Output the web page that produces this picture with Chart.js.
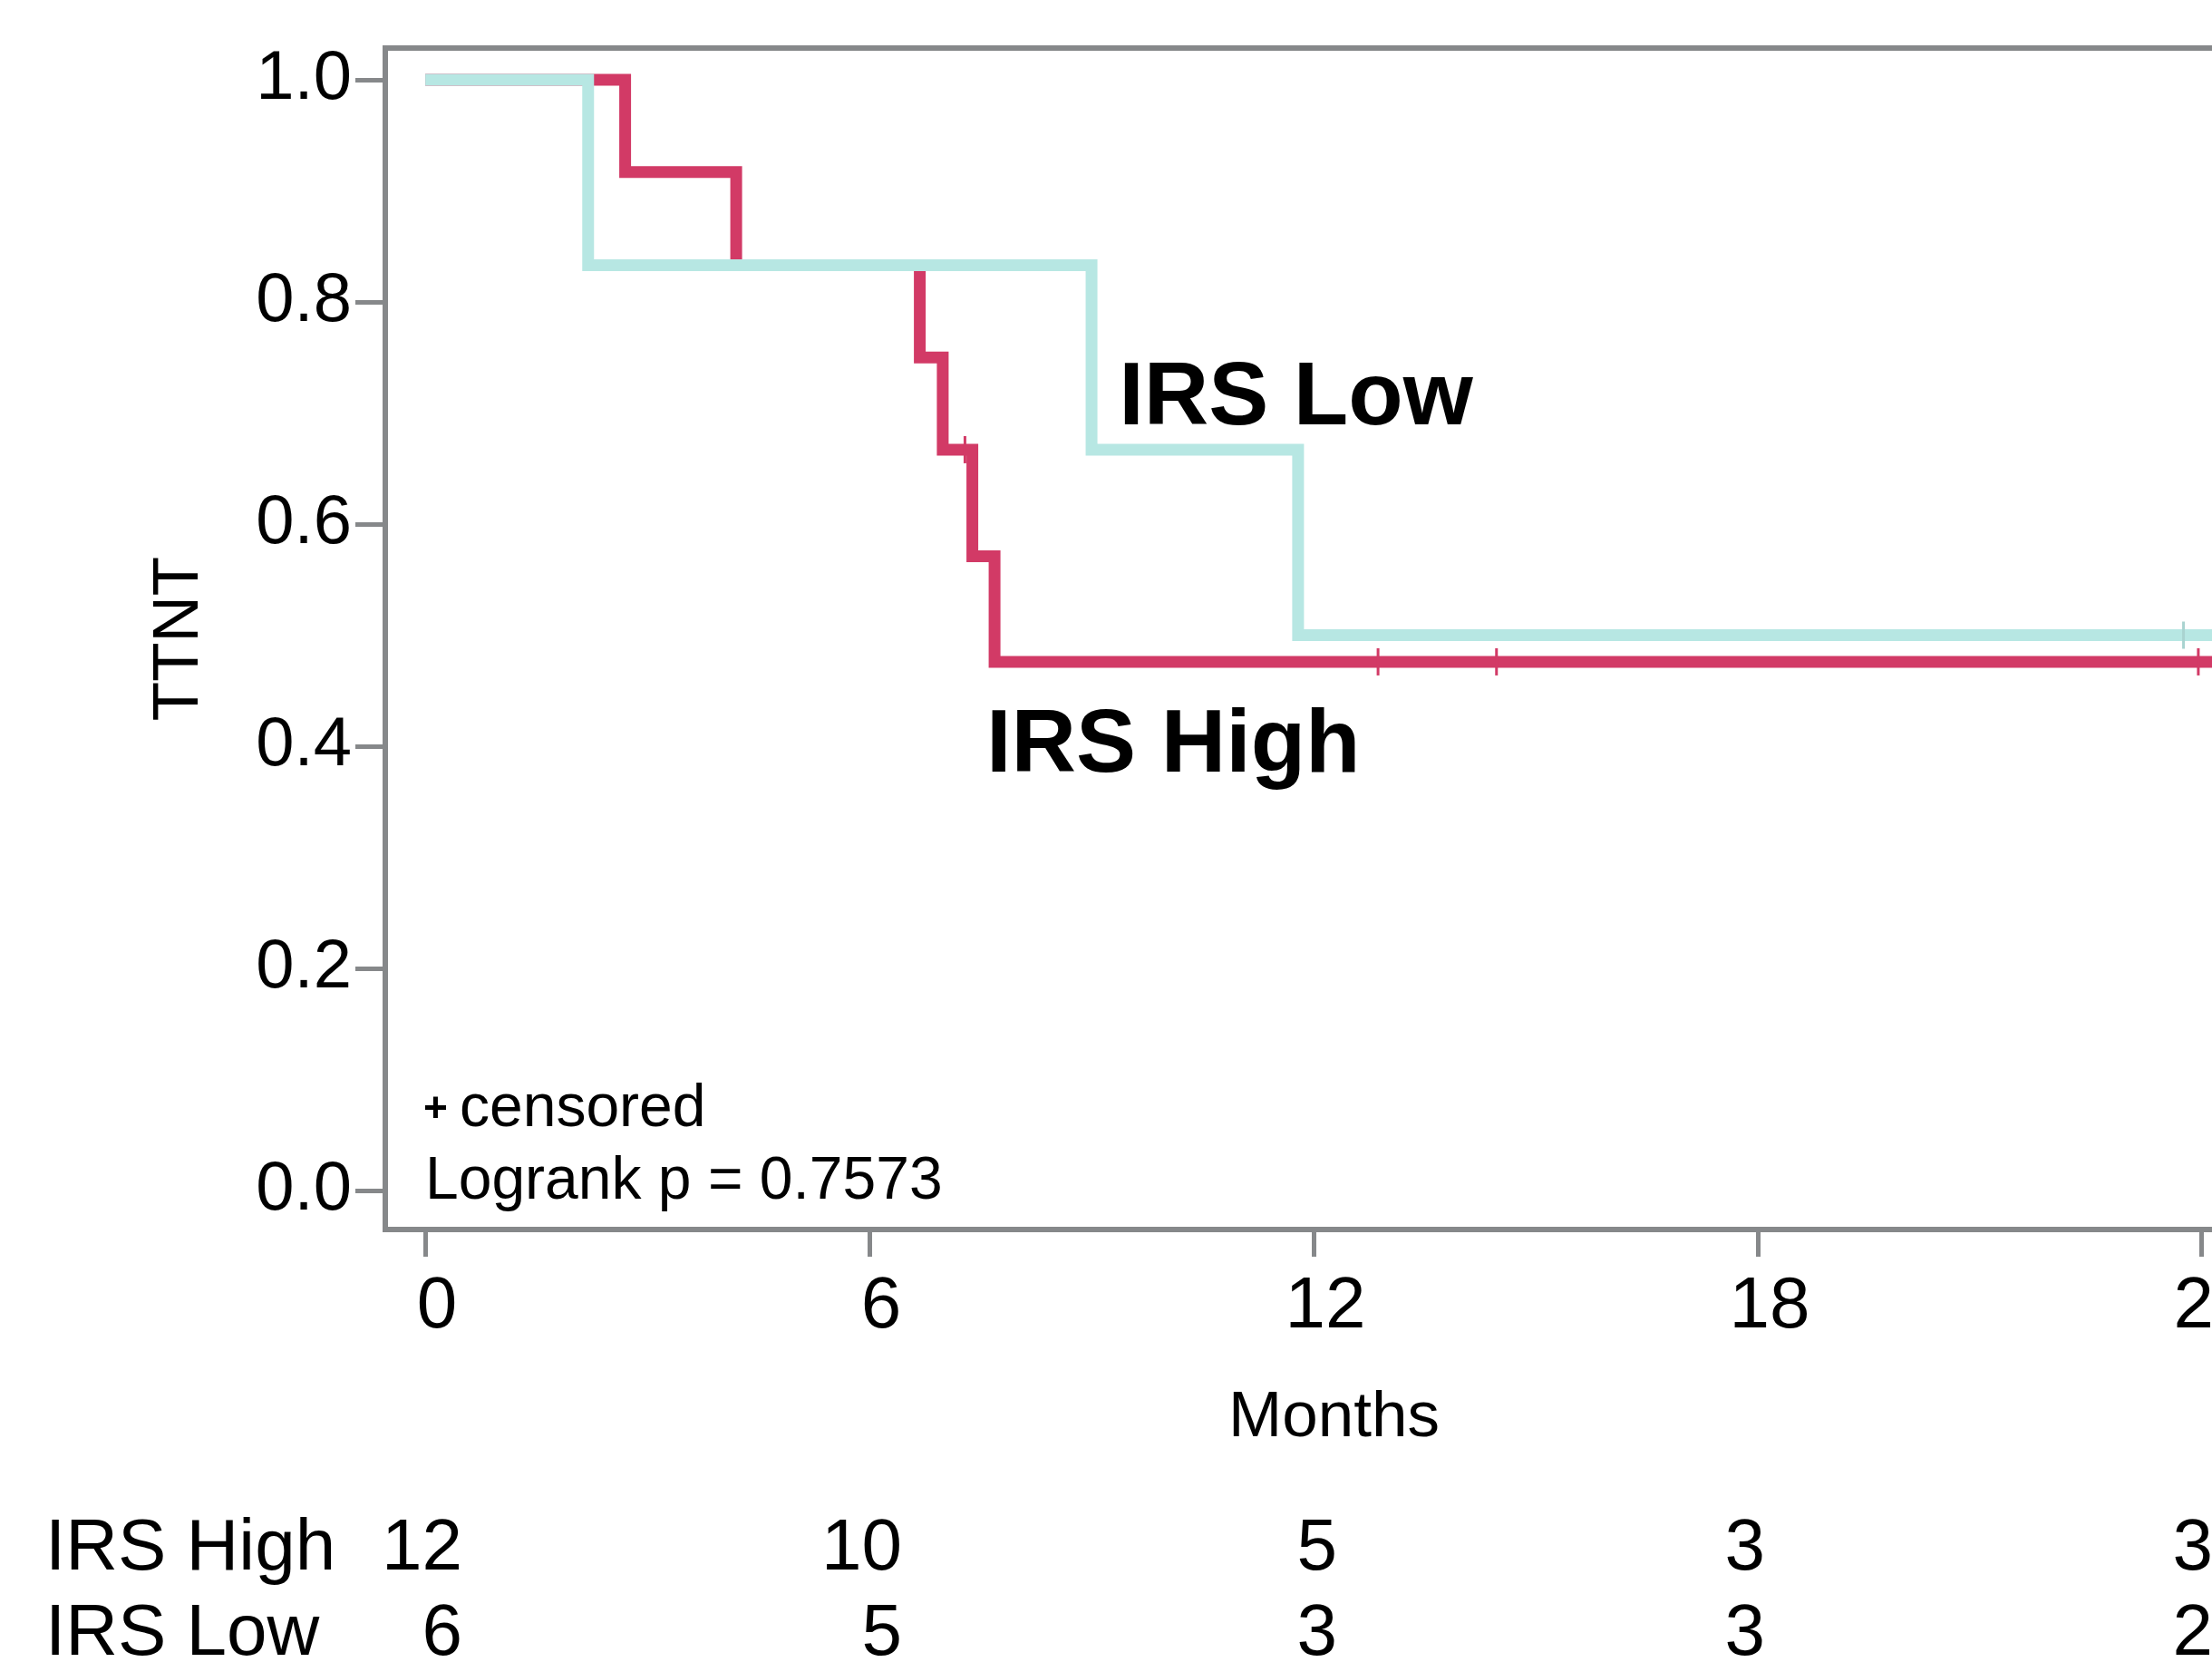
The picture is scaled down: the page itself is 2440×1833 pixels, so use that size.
<!DOCTYPE html>
<html>
<head>
<meta charset="utf-8">
<script src="https://cdn.jsdelivr.net/npm/chart.js@4.4.1/dist/chart.umd.min.js"></script>
<style>
  html, body { margin: 0; padding: 0; background: #fff; overflow: hidden; }
  canvas { display: block; }
</style>
</head>
<body>
<canvas id="km" width="2600" height="1833"></canvas>
<script>
// Kaplan-Meier steps (months, survival)
const highTimes = [0, 2.7, 4.2, 6.68, 6.99, 7.39, 7.69, 24.5];
const highSurv  = [1, 0.917, 0.833, 0.75, 0.667, 0.571, 0.476, 0.476];
const lowTimes  = [0, 2.2, 9.0, 11.79, 24.5];
const lowSurv   = [1, 0.833, 0.667, 0.5, 0.5];

// censored observations
const highCensorTimes = [7.29, 12.87, 14.47, 23.95];
const highCensorSurv  = [0.667, 0.476, 0.476, 0.476];
const lowCensorTimes  = [23.75];
const lowCensorSurv   = [0.5];

const xTicks = [0, 6, 12, 18, 24];
const yTicks = [0, 0.2, 0.4, 0.6, 0.8, 1.0];

// numbers at risk under each x tick
const riskGroups = ['IRS High', 'IRS Low'];
const riskHigh = [12, 10, 5, 3, 3];
const riskLow  = [6, 5, 3, 3, 2];

const pValue = '0.7573';

const red = '#d23a66';
const teal = '#b7e7e3';
const gray = '#86888a';
const FONT = '"Liberation Sans", Arial, Helvetica, sans-serif';

Chart.defaults.font.family = FONT;
Chart.defaults.color = '#000';

function pts(xs, ys) {
  return xs.map((x, i) => ({x: x, y: ys[i]}));
}

const annotate = {
  id: 'annotate',
  beforeDatasetsDraw(chart) {
    const {ctx, chartArea: a} = chart;
    ctx.save();
    ctx.strokeStyle = gray;
    ctx.lineWidth = 6;
    ctx.strokeRect(a.left, a.top, a.right - a.left, a.bottom - a.top);
    ctx.restore();
  },
  afterDraw(chart) {
    const ctx = chart.ctx;
    const xs = chart.scales.x, ys = chart.scales.y;
    const a = chart.chartArea;
    ctx.save();
    ctx.fillStyle = '#000';
    ctx.textBaseline = 'alphabetic';

    // group labels inside the plot
    ctx.textAlign = 'left';
    ctx.font = 'bold 99px ' + FONT;
    ctx.fillText('IRS Low', xs.getPixelForValue(9.37), ys.getPixelForValue(0.69));
    ctx.fillText('IRS High', xs.getPixelForValue(7.58), ys.getPixelForValue(0.377));

    // censored note + p value
    ctx.font = 'bold 46px ' + FONT;
    ctx.fillText('+', 467, 1237);
    ctx.font = '66px ' + FONT;
    ctx.fillText('censored', 507, 1242);
    ctx.fillText('Logrank p = ' + pValue, 469, 1322);

    // axis titles
    ctx.font = '71px ' + FONT;
    ctx.textAlign = 'center';
    ctx.fillText('Months', (a.left + a.right) / 2, 1584);
    ctx.save();
    ctx.translate(218, (a.top + a.bottom) / 2);
    ctx.rotate(-Math.PI / 2);
    ctx.fillText('TTNT', 0, 0);
    ctx.restore();

    // number at risk table
    ctx.font = '80px ' + FONT;
    ctx.textAlign = 'left';
    ctx.fillText(riskGroups[0], 50, 1731);
    ctx.fillText(riskGroups[1], 50, 1825);
    const offsets = [41, 36, 26, 8, 12];
    ctx.textAlign = 'right';
    xTicks.forEach((t, i) => {
      const px = xs.getPixelForValue(t) + offsets[i];
      ctx.fillText(String(riskHigh[i]), px, 1731);
      ctx.fillText(String(riskLow[i]), px, 1825);
    });
    ctx.restore();
  }
};

const censorStyle = {
  type: 'line',
  showLine: false,
  pointStyle: 'line',
  pointRotation: 90,
  pointRadius: 15,
  pointHoverRadius: 15,
  pointBorderWidth: 3
};

new Chart(document.getElementById('km'), {
  type: 'line',
  data: {
    datasets: [
      {
        label: 'IRS High',
        data: pts(highTimes, highSurv),
        borderColor: red,
        borderWidth: 13,
        stepped: 'before',
        pointRadius: 0,
        borderJoinStyle: 'miter',
        borderCapStyle: 'butt',
        fill: false,
        order: 2
      },
      {
        label: 'IRS Low',
        data: pts(lowTimes, lowSurv),
        borderColor: teal,
        borderWidth: 13,
        stepped: 'before',
        pointRadius: 0,
        borderJoinStyle: 'miter',
        borderCapStyle: 'butt',
        fill: false,
        order: 1
      },
      Object.assign({
        label: 'High censored',
        data: pts(highCensorTimes, highCensorSurv),
        borderColor: red,
        pointBorderColor: red,
        order: 0
      }, censorStyle),
      Object.assign({
        label: 'Low censored',
        data: pts(lowCensorTimes, lowCensorSurv),
        borderColor: '#a9d3d0',
        pointBorderColor: '#a9d3d0',
        order: 0
      }, censorStyle)
    ]
  },
  options: {
    responsive: false,
    animation: false,
    devicePixelRatio: 1,
    layout: { padding: { top: 53, right: 82, bottom: 0, left: 0 } },
    plugins: {
      legend: { display: false },
      tooltip: { enabled: false }
    },
    scales: {
      x: {
        type: 'linear',
        min: -0.54,
        max: 25.09,
        afterFit: s => { s.height = 477; },
        afterBuildTicks: s => { s.ticks = xTicks.map(v => ({value: v})); },
        border: { display: false },
        grid: { drawOnChartArea: false, drawTicks: true, tickLength: 30, tickWidth: 5, tickColor: gray, color: gray },
        ticks: { font: { size: 80 }, color: '#000', padding: 8, labelOffset: 13, autoSkip: false, maxRotation: 0 }
      },
      y: {
        type: 'linear',
        min: -0.0351,
        max: 1.0286,
        afterFit: s => { s.width = 425; },
        afterBuildTicks: s => { s.ticks = yTicks.map(v => ({value: v})); },
        border: { display: false },
        grid: { drawOnChartArea: false, drawTicks: true, tickLength: 33, tickWidth: 5, tickColor: gray, color: gray },
        ticks: { font: { size: 76 }, color: '#000', padding: 4, autoSkip: false, callback: v => v.toFixed(1) }
      }
    }
  },
  plugins: [annotate]
});
</script>
</body>
</html>
